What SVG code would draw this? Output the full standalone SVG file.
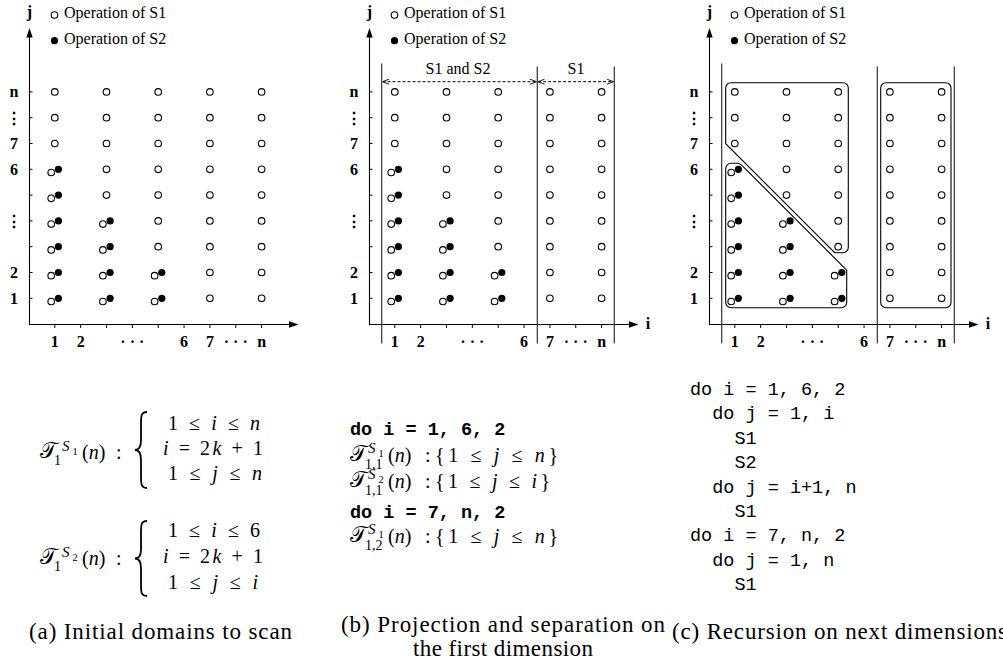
<svg xmlns="http://www.w3.org/2000/svg" xmlns:xlink="http://www.w3.org/1999/xlink" width="1003" height="671" viewBox="0 0 1003 671">
<style>
.ax{stroke:#000;stroke-width:1.1;fill:none}
.tk{stroke:#000;stroke-width:1;fill:none}
.vl{stroke:#333;stroke-width:1.2;fill:none}
.ah{fill:#000;stroke:none}
.o{fill:#fff;stroke:#000;stroke-width:1.1}
.f{fill:#000;stroke:none}
.box{fill:none;stroke:#000;stroke-width:1.1}
.dash{stroke:#000;stroke-width:1;stroke-dasharray:3 2;fill:none}
.lb{font-family:"Liberation Serif","Times New Roman",serif;font-weight:bold;font-size:16px;fill:#000}
.lg{font-family:"Liberation Serif","Times New Roman",serif;font-size:16px;fill:#000}
.m{font-family:"Liberation Serif","DejaVu Serif",serif;font-size:20px;fill:#000}
.it{font-style:italic}
.sup{font-size:15px}
.sub{font-size:14px}
.ss{font-size:10.5px}
.cal{font-family:"DejaVu Serif","Noto Sans","DejaVu Sans",serif;font-size:22px;fill:#000}
.code{font-family:"Liberation Mono","DejaVu Sans Mono",monospace;font-size:18.5px;fill:#000}
.cb{font-weight:bold}
.cap{font-family:"Liberation Serif","Times New Roman",serif;font-size:23px;fill:#000}
.br{fill:none;stroke:#000;stroke-width:1.8}
</style>
<defs>
<marker id="v" viewBox="0 0 7 6" refX="7" refY="3" markerWidth="7" markerHeight="6" markerUnits="userSpaceOnUse" orient="auto-start-reverse">
<path d="M0.5,0.5 L7,3 L0.5,5.5" fill="none" stroke="#000" stroke-width="0.9"/>
</marker>
<g id="axes">
<line class="ax" x1="29.5" y1="36" x2="29.5" y2="325"/>
<polygon class="ah" points="29.5,28 26.3,37.5 32.7,37.5"/>
<line class="ax" x1="29.5" y1="324.5" x2="290" y2="324.5"/>
<polygon class="ah" points="298.5,324.5 289,321.3 289,327.7"/>
<path class="tk" d="M29.5 91.9h3M29.5 117.7h3M29.5 143.5h3M29.5 169.3h3M29.5 195.1h3M29.5 220.9h3M29.5 246.7h3M29.5 272.5h3M29.5 298.3h3"/>
<path class="tk" d="M54.8 324.5v3.5M80.65 324.5v3.5M106.5 324.5v3.5M132.35 324.5v3.5M158.2 324.5v3.5M184.05 324.5v3.5M209.9 324.5v3.5M235.75 324.5v3.5M261.6 324.5v3.5"/>
<circle class="o" cx="54.5" cy="15" r="3.3"/>
<circle class="f" cx="54.5" cy="40.7" r="3.6"/>
</g>
<g id="dots">
<circle class="o" cx="51.2" cy="301.5" r="3.3"/><circle class="f" cx="58.4" cy="298.3" r="3.6"/>
<circle class="o" cx="51.2" cy="275.7" r="3.3"/><circle class="f" cx="58.4" cy="272.5" r="3.6"/>
<circle class="o" cx="51.2" cy="249.9" r="3.3"/><circle class="f" cx="58.4" cy="246.7" r="3.6"/>
<circle class="o" cx="51.2" cy="224.1" r="3.3"/><circle class="f" cx="58.4" cy="220.9" r="3.6"/>
<circle class="o" cx="51.2" cy="198.3" r="3.3"/><circle class="f" cx="58.4" cy="195.1" r="3.6"/>
<circle class="o" cx="51.2" cy="172.5" r="3.3"/><circle class="f" cx="58.4" cy="169.3" r="3.6"/>
<circle class="o" cx="54.8" cy="143.5" r="3.3"/><circle class="o" cx="54.8" cy="117.7" r="3.3"/><circle class="o" cx="54.8" cy="91.9" r="3.3"/>
<circle class="o" cx="102.9" cy="301.5" r="3.3"/><circle class="f" cx="110.1" cy="298.3" r="3.6"/>
<circle class="o" cx="102.9" cy="275.7" r="3.3"/><circle class="f" cx="110.1" cy="272.5" r="3.6"/>
<circle class="o" cx="102.9" cy="249.9" r="3.3"/><circle class="f" cx="110.1" cy="246.7" r="3.6"/>
<circle class="o" cx="102.9" cy="224.1" r="3.3"/><circle class="f" cx="110.1" cy="220.9" r="3.6"/>
<circle class="o" cx="106.5" cy="195.1" r="3.3"/><circle class="o" cx="106.5" cy="169.3" r="3.3"/><circle class="o" cx="106.5" cy="143.5" r="3.3"/><circle class="o" cx="106.5" cy="117.7" r="3.3"/><circle class="o" cx="106.5" cy="91.9" r="3.3"/>
<circle class="o" cx="154.6" cy="301.5" r="3.3"/><circle class="f" cx="161.8" cy="298.3" r="3.6"/>
<circle class="o" cx="154.6" cy="275.7" r="3.3"/><circle class="f" cx="161.8" cy="272.5" r="3.6"/>
<circle class="o" cx="158.2" cy="246.7" r="3.3"/><circle class="o" cx="158.2" cy="220.9" r="3.3"/><circle class="o" cx="158.2" cy="195.1" r="3.3"/><circle class="o" cx="158.2" cy="169.3" r="3.3"/><circle class="o" cx="158.2" cy="143.5" r="3.3"/><circle class="o" cx="158.2" cy="117.7" r="3.3"/><circle class="o" cx="158.2" cy="91.9" r="3.3"/>
<circle class="o" cx="209.9" cy="298.3" r="3.3"/><circle class="o" cx="209.9" cy="272.5" r="3.3"/><circle class="o" cx="209.9" cy="246.7" r="3.3"/><circle class="o" cx="209.9" cy="220.9" r="3.3"/><circle class="o" cx="209.9" cy="195.1" r="3.3"/><circle class="o" cx="209.9" cy="169.3" r="3.3"/><circle class="o" cx="209.9" cy="143.5" r="3.3"/><circle class="o" cx="209.9" cy="117.7" r="3.3"/><circle class="o" cx="209.9" cy="91.9" r="3.3"/>
<circle class="o" cx="261.6" cy="298.3" r="3.3"/><circle class="o" cx="261.6" cy="272.5" r="3.3"/><circle class="o" cx="261.6" cy="246.7" r="3.3"/><circle class="o" cx="261.6" cy="220.9" r="3.3"/><circle class="o" cx="261.6" cy="195.1" r="3.3"/><circle class="o" cx="261.6" cy="169.3" r="3.3"/><circle class="o" cx="261.6" cy="143.5" r="3.3"/><circle class="o" cx="261.6" cy="117.7" r="3.3"/><circle class="o" cx="261.6" cy="91.9" r="3.3"/>
</g>
</defs>
<rect width="1003" height="671" fill="#fff"/>

<!-- Panel (a) -->
<g id="panel-a">
<use xlink:href="#axes" href="#axes"/>
<use xlink:href="#dots" href="#dots"/>
<text class="lb" x="29.5" y="17" text-anchor="middle">j</text>
<text class="lg" x="64" y="18">Operation of S1</text>
<text class="lg" x="64" y="44">Operation of S2</text>
<text class="lb" x="14" y="97.4" text-anchor="middle">n</text>
<text class="lb" x="14" y="124" text-anchor="middle">⋮</text>
<text class="lb" x="14" y="149" text-anchor="middle">7</text>
<text class="lb" x="14" y="174.8" text-anchor="middle">6</text>
<text class="lb" x="14" y="227" text-anchor="middle">⋮</text>
<text class="lb" x="14" y="278" text-anchor="middle">2</text>
<text class="lb" x="14" y="303.8" text-anchor="middle">1</text>
<text class="lb" x="54.8" y="347" text-anchor="middle">1</text>
<text class="lb" x="80.65" y="347" text-anchor="middle">2</text>
<text class="lb" x="132.35" y="347" text-anchor="middle">· · ·</text>
<text class="lb" x="184.05" y="347" text-anchor="middle">6</text>
<text class="lb" x="209.9" y="347" text-anchor="middle">7</text>
<text class="lb" x="235.75" y="347" text-anchor="middle">· · ·</text>
<text class="lb" x="261.6" y="347" text-anchor="middle">n</text>
</g>

<!-- Panel (b) -->
<g id="panel-b">
<use xlink:href="#axes" href="#axes" x="340"/>
<use xlink:href="#dots" href="#dots" x="340"/>
<text class="lb" x="369.5" y="17" text-anchor="middle">j</text>
<text class="lg" x="404" y="18">Operation of S1</text>
<text class="lg" x="404" y="44">Operation of S2</text>
<text class="lb" x="354" y="97.4" text-anchor="middle">n</text>
<text class="lb" x="354" y="124" text-anchor="middle">⋮</text>
<text class="lb" x="354" y="149" text-anchor="middle">7</text>
<text class="lb" x="354" y="174.8" text-anchor="middle">6</text>
<text class="lb" x="354" y="227" text-anchor="middle">⋮</text>
<text class="lb" x="354" y="278" text-anchor="middle">2</text>
<text class="lb" x="354" y="303.8" text-anchor="middle">1</text>
<text class="lb" x="394.8" y="347" text-anchor="middle">1</text>
<text class="lb" x="420.65" y="347" text-anchor="middle">2</text>
<text class="lb" x="472.35" y="347" text-anchor="middle">· · ·</text>
<text class="lb" x="524.05" y="347" text-anchor="middle">6</text>
<text class="lb" x="549.9" y="347" text-anchor="middle">7</text>
<text class="lb" x="575.75" y="347" text-anchor="middle">· · ·</text>
<text class="lb" x="601.6" y="347" text-anchor="middle">n</text>
<text class="lb" x="648" y="329" text-anchor="middle">i</text>
<line class="vl" x1="381.7" y1="63.5" x2="381.7" y2="343.5"/>
<line class="vl" x1="537.3" y1="66.5" x2="537.3" y2="343.5"/>
<line class="vl" x1="614.3" y1="66.5" x2="614.3" y2="343.5"/>
<line class="dash" x1="382.5" y1="81.7" x2="536.5" y2="81.7" marker-start="url(#v)" marker-end="url(#v)"/>
<line class="dash" x1="538.1" y1="81.7" x2="613.5" y2="81.7" marker-start="url(#v)" marker-end="url(#v)"/>
<text class="lg" x="458" y="74" text-anchor="middle">S1 and S2</text>
<text class="lg" x="576" y="74" text-anchor="middle">S1</text>
</g>

<!-- Panel (c) -->
<g id="panel-c">
<use xlink:href="#axes" href="#axes" x="680"/>
<use xlink:href="#dots" href="#dots" x="680"/>
<text class="lb" x="709.5" y="17" text-anchor="middle">j</text>
<text class="lg" x="744" y="18">Operation of S1</text>
<text class="lg" x="744" y="44">Operation of S2</text>
<text class="lb" x="694" y="97.4" text-anchor="middle">n</text>
<text class="lb" x="694" y="124" text-anchor="middle">⋮</text>
<text class="lb" x="694" y="149" text-anchor="middle">7</text>
<text class="lb" x="694" y="174.8" text-anchor="middle">6</text>
<text class="lb" x="694" y="227" text-anchor="middle">⋮</text>
<text class="lb" x="694" y="278" text-anchor="middle">2</text>
<text class="lb" x="694" y="303.8" text-anchor="middle">1</text>
<text class="lb" x="734.8" y="347" text-anchor="middle">1</text>
<text class="lb" x="760.65" y="347" text-anchor="middle">2</text>
<text class="lb" x="812.35" y="347" text-anchor="middle">· · ·</text>
<text class="lb" x="864.05" y="347" text-anchor="middle">6</text>
<text class="lb" x="889.9" y="347" text-anchor="middle">7</text>
<text class="lb" x="915.75" y="347" text-anchor="middle">· · ·</text>
<text class="lb" x="941.6" y="347" text-anchor="middle">n</text>
<text class="lb" x="988" y="329" text-anchor="middle">i</text>
<line class="vl" x1="721.7" y1="63.5" x2="721.7" y2="343.5"/>
<line class="vl" x1="877.3" y1="66.5" x2="877.3" y2="343.5"/>
<line class="vl" x1="954.3" y1="66.5" x2="954.3" y2="343.5"/>
<path class="box" d="M731,82.7 H843 A5.3,5.3 0 0 1 848.3,88 V247.4 A5.3,5.3 0 0 1 843,252.7 H834.7 L725.7,143.7 V88 A5.3,5.3 0 0 1 731,82.7 Z"/>
<path class="box" d="M731,163.3 H737 Q739.6,163.3 741.6,165.1 L846.7,270.2 V302.4 A5.3,5.3 0 0 1 841.4,307.7 H731 A5.3,5.3 0 0 1 725.7,302.4 V168.6 A5.3,5.3 0 0 1 731,163.3 Z"/>
<rect class="box" x="880.7" y="82.7" width="70.3" height="225" rx="5.3"/>
</g>

<!-- Formulas (a) -->
<g id="formula-a1">
<text class="cal" x="40" y="458">𝒯</text>
<text class="m it sup" x="62" y="451">S</text>
<text class="m ss" x="72.5" y="454.5">1</text>
<text class="m sub" x="54" y="465">1</text>
<text class="m" x="82" y="459">(<tspan class="it">n</tspan>)</text>
<text class="m" x="116" y="459">:</text>
<path class="br" d="M147,412 C141,412 141,416 141,424 L141,440 C141,446 139,450 135,450 C139,450 141,454 141,460 L141,476 C141,484 141,488 147,488"/>
<text class="m" x="168" y="430" textLength="92" lengthAdjust="spacing">1 ≤ <tspan class="it">i</tspan> ≤ <tspan class="it">n</tspan></text>
<text class="m" x="163" y="455" textLength="100" lengthAdjust="spacing"><tspan class="it">i</tspan> = 2<tspan class="it">k</tspan> + 1</text>
<text class="m" x="168" y="480" textLength="94" lengthAdjust="spacing">1 ≤ <tspan class="it">j</tspan> ≤ <tspan class="it">n</tspan></text>
</g>
<g id="formula-a2">
<text class="cal" x="40" y="564">𝒯</text>
<text class="m it sup" x="62" y="557">S</text>
<text class="m ss" x="72.5" y="560.5">2</text>
<text class="m sub" x="54" y="571">1</text>
<text class="m" x="82" y="565">(<tspan class="it">n</tspan>)</text>
<text class="m" x="116" y="565">:</text>
<path class="br" d="M147,521 C141,521 141,525 141,533 L141,549.5 C141,555 139,558.5 135,558.5 C139,558.5 141,562 141,568 L141,584 C141,592 141,596 147,596"/>
<text class="m" x="168" y="537" textLength="92" lengthAdjust="spacing">1 ≤ <tspan class="it">i</tspan> ≤ 6</text>
<text class="m" x="163" y="563" textLength="100" lengthAdjust="spacing"><tspan class="it">i</tspan> = 2<tspan class="it">k</tspan> + 1</text>
<text class="m" x="168" y="589" textLength="90" lengthAdjust="spacing">1 ≤ <tspan class="it">j</tspan> ≤ <tspan class="it">i</tspan></text>
</g>

<!-- Code (b) -->
<g id="code-b">
<text class="code cb" x="350" y="435">do i = 1, 6, 2</text>
<text class="cal" x="350" y="461">𝒯</text>
<text class="m it sup" x="368" y="453">S</text>
<text class="m ss" x="378.5" y="456.5">1</text>
<text class="m sub" x="365" y="469">1,1</text>
<text class="m" x="388" y="462">(<tspan class="it">n</tspan>)</text>
<text class="m" x="425" y="462">:</text>
<text class="m" x="435" y="462" textLength="123" lengthAdjust="spacing">{1 ≤ <tspan class="it">j</tspan> ≤ <tspan class="it">n</tspan>}</text>
<text class="cal" x="350" y="487">𝒯</text>
<text class="m it sup" x="368" y="479">S</text>
<text class="m ss" x="378.5" y="482.5">2</text>
<text class="m sub" x="365" y="495">1,1</text>
<text class="m" x="388" y="488">(<tspan class="it">n</tspan>)</text>
<text class="m" x="425" y="488">:</text>
<text class="m" x="435" y="488" textLength="115" lengthAdjust="spacing">{1 ≤ <tspan class="it">j</tspan> ≤ <tspan class="it">i</tspan>}</text>
<text class="code cb" x="350" y="518">do i = 7, n, 2</text>
<text class="cal" x="350" y="542">𝒯</text>
<text class="m it sup" x="368" y="534">S</text>
<text class="m ss" x="378.5" y="537.5">1</text>
<text class="m sub" x="365" y="550">1,2</text>
<text class="m" x="388" y="543">(<tspan class="it">n</tspan>)</text>
<text class="m" x="425" y="543">:</text>
<text class="m" x="435" y="543" textLength="123" lengthAdjust="spacing">{1 ≤ <tspan class="it">j</tspan> ≤ <tspan class="it">n</tspan>}</text>
</g>

<!-- Code (c) -->
<g id="code-c">
<text class="code" x="690" y="395">do i = 1, 6, 2</text>
<text class="code" x="712.2" y="419.4">do j = 1, i</text>
<text class="code" x="734.4" y="443.8">S1</text>
<text class="code" x="734.4" y="468.2">S2</text>
<text class="code" x="712.2" y="492.6">do j = i+1, n</text>
<text class="code" x="734.4" y="517">S1</text>
<text class="code" x="690" y="541.4">do i = 7, n, 2</text>
<text class="code" x="712.2" y="565.8">do j = 1, n</text>
<text class="code" x="734.4" y="590.2">S1</text>
</g>

<!-- Captions -->
<g id="captions">
<text class="cap" x="29" y="639" textLength="263" lengthAdjust="spacing">(a) Initial domains to scan</text>
<text class="cap" x="341" y="632" textLength="324" lengthAdjust="spacing">(b) Projection and separation on</text>
<text class="cap" x="413" y="656" textLength="180" lengthAdjust="spacing">the first dimension</text>
<text class="cap" x="672" y="639" textLength="335" lengthAdjust="spacing">(c) Recursion on next dimensions</text>
</g>
</svg>
